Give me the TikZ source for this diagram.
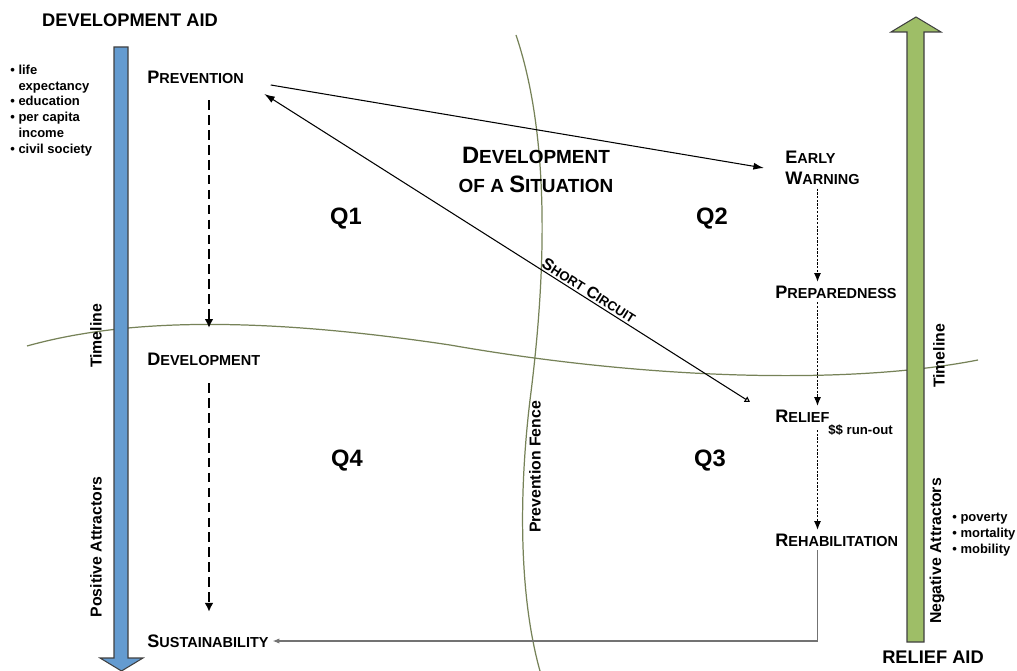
\documentclass[tikz,border=0pt]{standalone}
\usepackage{fontspec}
\setmainfont{Liberation Sans}
\usetikzlibrary{arrows.meta,calc}
\definecolor{devblue}{RGB}{100,155,208}
\definecolor{relgreen}{RGB}{158,190,103}
\definecolor{fencecol}{RGB}{118,130,88}
\makeatletter
\newcommand{\fsc}[2]{#1{\fontsize{\fpeval{0.8*\f@size}}{\f@baselineskip}\selectfont #2}}
\makeatother

\begin{document}
\begin{tikzpicture}[x=0.02cm,y=-0.02cm,
  stage/.style={font=\fontsize{10.3}{12}\selectfont\bfseries, inner sep=2pt, anchor=west, align=left},
  quad/.style={font=\fontsize{13.5}{16}\selectfont\bfseries},
  aid/.style={font=\fontsize{10.4}{12}\selectfont\bfseries},
  side/.style={font=\fontsize{9}{11}\selectfont\bfseries, rotate=90},
  note/.style={font=\fontsize{7.4}{9}\selectfont\bfseries, align=left, inner sep=0pt, anchor=north west},
  fence/.style={draw=fencecol, line width=0.7pt},
  devflow/.style={line width=1.3pt, dash pattern=on 5.5pt off 3pt, -{Latex[length=5pt,width=5pt]}},
  relflow/.style={line width=0.6pt, dash pattern=on 1.3pt off 0.8pt, -{Latex[length=5pt,width=4pt]}},
  thin arrow/.style={line width=0.6pt, -{Latex[length=6pt,width=4pt]}},
  aidbar/.style={draw=black!75, line width=0.6pt}]
\useasboundingbox (0,0) rectangle (1017,671);

\draw[fence] (516,35) .. controls (548,130) and (548,260) .. (530,400)
  .. controls (518,500) and (520,600) .. (540,671);
\draw[fence] (27,346) .. controls (120,320) and (250,315) .. (450,345)
  .. controls (650,380) and (850,385) .. (978,360);

\draw[aidbar, fill=devblue] (114,47) -- (128,47) -- (128,658) -- (143,658) -- (121.5,671)
  -- (100,658) -- (114,658) -- cycle;
\draw[aidbar, fill=relgreen] (907,642) -- (924,642) -- (924,32) -- (941,32) -- (916,17)
  -- (891,32) -- (907,32) -- cycle;

\path
(130,20)    node[aid] (devaid) {DEVELOPMENT AID}
(933,657)   node[aid] (relaid) {RELIEF AID}
(10,64.5)   node[note] (plus) {• life\\\hphantom{• }expectancy\\• education\\• per capita\\\hphantom{• }income\\• civil society}
(952,513)   node[note] (minus) {• poverty\\• mortality\\• mobility}
(96,336)    node[side] (tl1) {Timeline}
(939,356)   node[side] (tl2) {Timeline}
(96,547)    node[side] (pos) {Positive Attractors}
(937,551)   node[side] (neg) {Negative Attractors}
(535,467)   node[side] (fen) {Prevention Fence}
(536,170)   node[align=center, font=\fontsize{13.5}{17}\selectfont\bfseries] (title)
            {\fsc{D}{EVELOPMENT}\\\fsc{}{OF A }\fsc{S}{ITUATION}}
(346,219)   node[quad] (q1) {Q1}
(712,219)   node[quad] (q2) {Q2}
(710,461)   node[quad] (q3) {Q3}
(347,461)   node[quad] (q4) {Q4}
(143.5,77)  node[stage] (prev) {\fsc{P}{REVENTION}}
(143.5,359) node[stage] (dev) {\fsc{D}{EVELOPMENT}}
(143.5,641) node[stage] (sus) {\fsc{S}{USTAINABILITY}}
(781.5,168) node[stage] (early) {\fsc{E}{ARLY}\\\fsc{W}{ARNING}}
(771.5,292) node[stage] (prep) {\fsc{P}{REPAREDNESS}}
(771.5,416) node[stage] (relief) {\fsc{R}{ELIEF}}
(771.5,540) node[stage] (rehab) {\fsc{R}{EHABILITATION}}
(828,430)   node[anchor=west, inner sep=0pt, font=\fontsize{7.5}{9}\selectfont\bfseries] (runout) {\$\$ run-out}
;
\coordinate (devlane) at (209,0);
\coordinate (rellane) at (817.5,0);
\coordinate (sc) at (750,402);

\draw[devflow, shorten <=0.26cm, shorten >=0.42cm] (prev.south -| devlane) -- (dev.north -| devlane);
\draw[devflow, shorten <=0.28cm, shorten >=0.38cm] (dev.south -| devlane) -- (sus.north -| devlane);
\draw[relflow] (early.south -| rellane) -- (prep.north -| rellane);
\draw[relflow] (prep.south -| rellane) -- (relief.north -| rellane);
\draw[relflow, shorten <=0.08cm] (relief.south -| rellane) -- (rehab.north -| rellane);
\draw[thin arrow] ([shift={(23,8)}]prev.east) -- ([xshift=-10]early.west);
\draw[line width=0.6pt, {Latex[length=6pt,width=4pt]}-{Triangle[open,length=3pt,width=3.5pt]}]
  ([shift={(16.5,17)}]prev.east) -- (sc)
  node[pos=0.66, sloped, above, inner sep=1pt, font=\fontsize{9.3}{11}\selectfont\bfseries] (short) {\fsc{S}{HORT} \fsc{C}{IRCUIT}};
\draw[draw=black!55, line width=0.7pt, -{Latex[length=4pt,width=3pt]}] (rehab.south -| rellane) |- (sus.east);
\end{tikzpicture}
\end{document}
